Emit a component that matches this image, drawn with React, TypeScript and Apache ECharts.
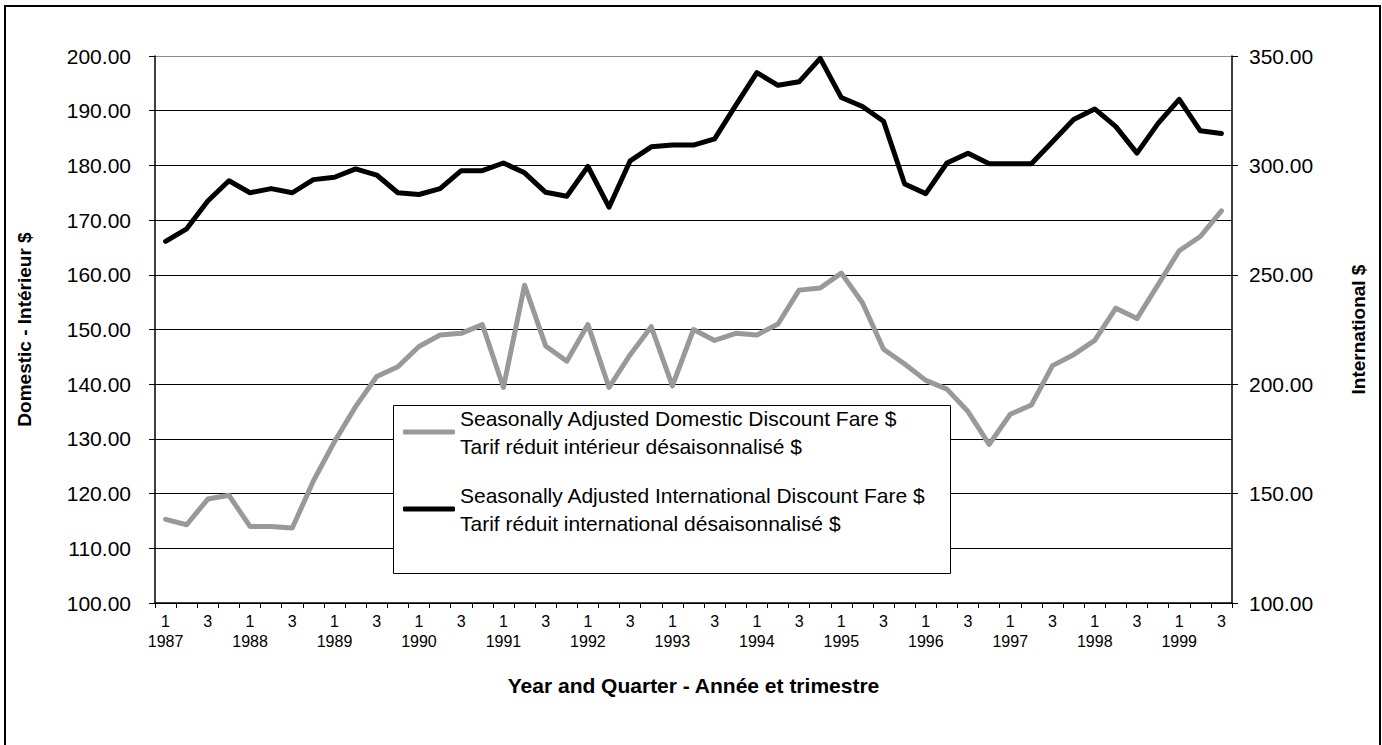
import React, { useEffect, useRef } from "react";
import * as echarts from "echarts";

const years = [1987, 1988, 1989, 1990, 1991, 1992, 1993, 1994, 1995, 1996, 1997, 1998, 1999];
const quarters = [1, 2, 3, 4];
const categories: string[] = [];
years.forEach((y) => quarters.forEach((q) => categories.push(`${y} Q${q}`)));
categories.splice(51);

const domesticName = "Seasonally Adjusted Domestic Discount Fare $\nTarif réduit intérieur désaisonnalisé $";
const internationalName = "Seasonally Adjusted International Discount Fare $\nTarif réduit international désaisonnalisé $";

const domestic = [
  115.3, 114.3, 119.0, 119.7, 114.0, 114.0, 113.7, 122.3, 129.5, 135.9,
  141.4, 143.2, 146.9, 149.0, 149.3, 150.9, 139.4, 158.1, 147.0, 144.2,
  150.9, 139.4, 145.4, 150.5, 139.7, 150.0, 148.0, 149.3, 149.0, 151.0,
  157.2, 157.6, 160.3, 154.9, 146.4, 143.7, 140.7, 139.1, 135.0, 129.0,
  134.5, 136.2, 143.4, 145.4, 148.0, 153.9, 152.0, 158.2, 164.4, 167.0,
  171.7,
];

const international = [
  265.3, 271.0, 283.7, 293.0, 287.5, 289.4, 287.5, 293.5, 294.6, 298.4,
  295.6, 287.5, 286.7, 289.4, 297.6, 297.6, 301.1, 296.6, 287.7, 285.9,
  299.5, 280.9, 302.1, 308.5, 309.3, 309.3, 312.1, 327.4, 342.4, 336.6,
  338.2, 348.9, 331.0, 326.9, 320.2, 291.5, 287.1, 301.1, 305.6, 300.8,
  300.8, 300.8, 310.8, 321.0, 325.8, 317.7, 305.6, 319.2, 330.2, 315.8,
  314.6,
];

const FONT = "'Liberation Sans', Arial, Helvetica, sans-serif";

export default function App() {
  const ref = useRef<HTMLDivElement>(null);
  useEffect(() => {
    document.body.style.margin = "0";
    const chart = echarts.init(ref.current!, null, { renderer: "svg" });
    const gridColors = Array(10).fill("#000").concat(["#8c8c8c"]);
    chart.setOption({
      animation: false,
      backgroundColor: "#fff",
      textStyle: { fontFamily: FONT, color: "#000" },
      grid: { left: 155, right: 150, top: 56, bottom: 142, containLabel: false },
      graphic: [
        {
          type: "rect",
          z: 0,
          shape: { x: 5, y: 6, width: 1375, height: 800 },
          style: { fill: "none", stroke: "#000", lineWidth: 2 },
        },
        {
          type: "rect",
          z: 3,
          shape: { x: 393.5, y: 405.5, width: 557, height: 168 },
          style: { fill: "#fff", stroke: "#000", lineWidth: 1 },
        },
      ],
      legend: {
        orient: "vertical",
        left: 403,
        top: 390,
        padding: 0,
        itemGap: -7,
        itemWidth: 52,
        itemHeight: 5,
        icon: "roundRect",
        selectedMode: false,
        textStyle: {
          fontSize: 21,
          lineHeight: 28,
          color: "#000",
          fontFamily: FONT,
          padding: [28, 0, 0, 0],
        },
        data: [domesticName, internationalName],
      },
      xAxis: {
        type: "category",
        data: categories,
        boundaryGap: true,
        name: "Year and Quarter - Année et trimestre",
        nameLocation: "middle",
        nameGap: 72,
        nameTextStyle: { fontSize: 21, fontWeight: "bold", color: "#000", fontFamily: FONT },
        axisLine: { lineStyle: { color: "#000", width: 1.5 } },
        axisTick: { show: true, interval: 0, length: 5, lineStyle: { color: "#000" } },
        axisLabel: {
          interval: 1,
          margin: 8,
          fontSize: 16,
          lineHeight: 20,
          color: "#000",
          fontFamily: FONT,
          formatter: (value: string) => {
            const [y, q] = value.split(" Q");
            return q === "1" ? `1\n${y}` : q;
          },
        },
      },
      yAxis: [
        {
          type: "value",
          min: 100,
          max: 200,
          interval: 10,
          position: "left",
          name: "Domestic - Intérieur $",
          nameLocation: "middle",
          nameGap: 121,
          nameTextStyle: { fontSize: 19, fontWeight: "bold", color: "#000", fontFamily: FONT },
          axisLine: { show: true, lineStyle: { color: "#000", width: 1.5 } },
          axisTick: { show: true, length: 6, lineStyle: { color: "#000" } },
          axisLabel: {
            margin: 24,
            fontSize: 21,
            color: "#000",
            fontFamily: FONT,
            formatter: (v: number) => v.toFixed(2),
          },
          splitLine: { show: true, lineStyle: { color: gridColors, width: 1 } },
        },
        {
          type: "value",
          min: 100,
          max: 350,
          interval: 50,
          position: "right",
          name: "International $",
          nameLocation: "middle",
          nameGap: 117,
          nameTextStyle: { fontSize: 19, fontWeight: "bold", color: "#000", fontFamily: FONT },
          axisLine: { show: true, lineStyle: { color: "#000", width: 1.5 } },
          axisTick: { show: true, length: 6, lineStyle: { color: "#000" } },
          axisLabel: {
            margin: 17,
            fontSize: 21,
            color: "#000",
            fontFamily: FONT,
            formatter: (v: number) => v.toFixed(2),
          },
          splitLine: { show: false },
        },
      ],
      series: [
        {
          name: domesticName,
          type: "line",
          yAxisIndex: 0,
          data: domestic,
          showSymbol: false,
          symbol: "none",
          color: "#999999",
          lineStyle: { color: "#999999", width: 5, cap: "round", join: "round" },
          itemStyle: { color: "#999999" },
        },
        {
          name: internationalName,
          type: "line",
          yAxisIndex: 1,
          data: international,
          showSymbol: false,
          symbol: "none",
          color: "#000000",
          lineStyle: { color: "#000000", width: 5, cap: "round", join: "round" },
          itemStyle: { color: "#000000" },
        },
      ],
    });
    return () => chart.dispose();
  }, []);
  return <div ref={ref} style={{ width: 1382, height: 745 }} />;
}
